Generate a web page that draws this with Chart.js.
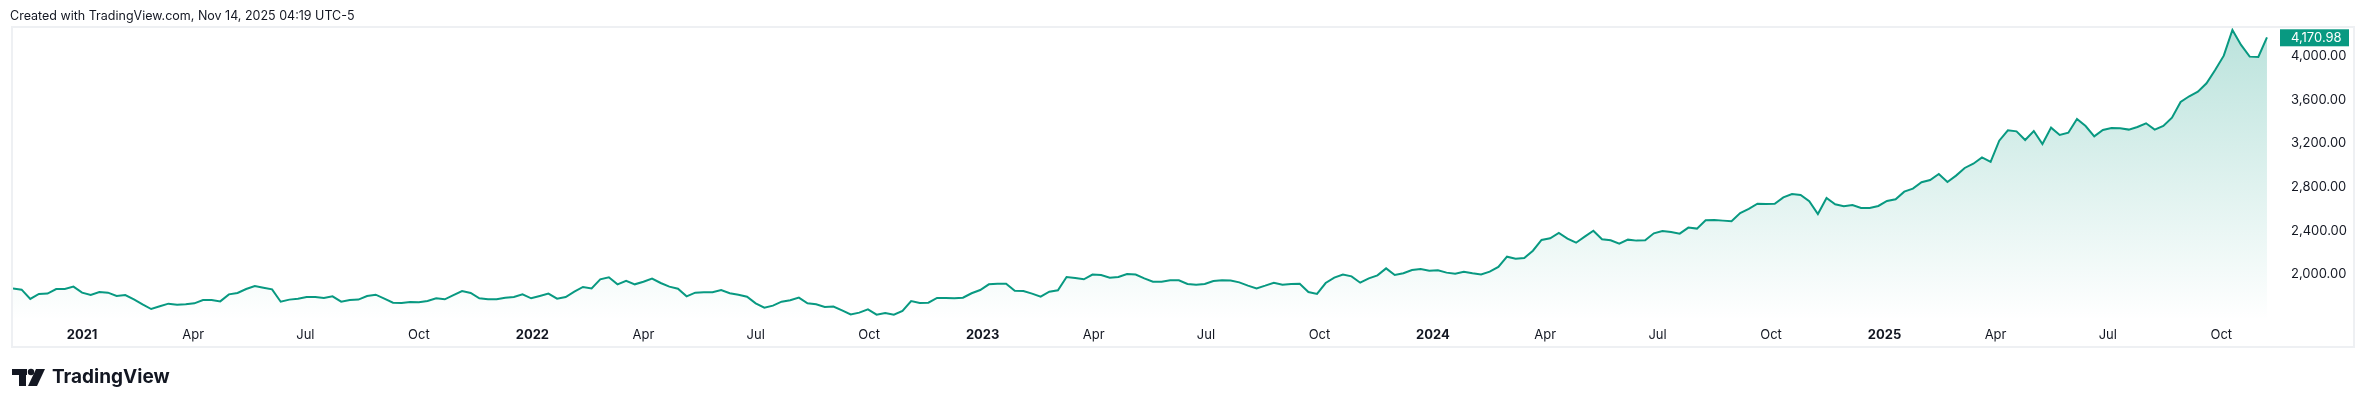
<!DOCTYPE html>
<html><head><meta charset="utf-8">
<script src="https://cdn.jsdelivr.net/npm/chart.js@4"></script>
<style>html,body{margin:0;padding:0;background:#fff}canvas{display:block}</style>
</head><body>
<canvas id="c" width="2364" height="407"></canvas>
<script>
const startDate = '2020-11-06';
const closes1 = [1873,1861,1776,1822,1825,1867,1867,1889,1834,1812,1840,1834,1803,1812,1773,1727,1684,1709,1733,1724,1727,1736,1767,1767,1754,1818,1831,1867,1895,1879,1864,1751,1770,1779,1794,1794,1785,1800,1751,1767,1770,1803,1815,1779,1742,1739,1748,1745,1757,1782,1773,1812,1849,1831,1782,1773,1773];
const closes2 = [1788,1794,1818,1782,1803,1825,1779,1794,1843,1886,1873,1956,1974,1910,1943,1910,1934,1962,1922,1889,1870,1800,1834,1837,1837,1858,1828,1815,1797,1736,1696,1715,1751,1764,1788,1736,1727,1703,1706,1672,1635,1651,1681,1632,1648,1632,1666,1757,1739,1742,1785,1785,1782,1788,1828];
const closes3 = [1858,1910,1916,1916,1852,1849,1825,1797,1843,1855,1977,1968,1956,1999,1995,1971,1977,2005,1999,1965,1934,1934,1947,1947,1913,1907,1913,1941,1947,1944,1928,1898,1873,1898,1925,1907,1913,1916,1840,1822,1922,1971,1999,1983,1925,1965,1992,2056,1995,2011,2041,2050,2035,2038,2017,2008];
const closes4 = [2026,2011,2001,2026,2069,2163,2145,2151,2218,2316,2331,2380,2328,2291,2346,2401,2322,2313,2282,2319,2310,2313,2377,2398,2389,2374,2429,2420,2496,2499,2493,2487,2563,2600,2648,2645,2648,2706,2737,2728,2670,2554,2700,2642,2624,2636,2609,2609,2627,2673,2688,2758,2786,2844,2865];
const closes5 = [2920,2847,2905,2975,3014,3072,3030,3225,3320,3310,3231,3313,3194,3344,3277,3298,3423,3359,3265,3323,3341,3338,3326,3350,3384,3326,3359,3435,3579,3631,3673,3750,3872,4003,4238,4101,3994,3991,4170.98];
const closes = [...closes1,...closes2,...closes3,...closes4,...closes5];
const tickDates = ['2021-01-01','2021-04-01','2021-07-01','2021-10-01','2022-01-01','2022-04-01','2022-07-01','2022-10-01','2023-01-01','2023-04-01','2023-07-01','2023-10-01','2024-01-01','2024-04-01','2024-07-01','2024-10-01','2025-01-01','2025-04-01','2025-07-01','2025-10-01'];
const tickLabels = ['2021','Apr','Jul','Oct','2022','Apr','Jul','Oct','2023','Apr','Jul','Oct','2024','Apr','Jul','Oct','2025','Apr','Jul','Oct'];
const yTicks = [2000,2400,2800,3200,3600,4000];
const lastLabel = '4,170.98';

const day = 86400000;
const t0 = Date.parse(startDate);
const tickDays = tickDates.map(d => Math.round((Date.parse(d) - t0) / day));
const points = closes.map((v, i) => ({x: i * 7, y: v}));
const GREEN = '#089981';

const deco = {
  id: 'deco',
  beforeDraw(chart) {
    const ctx = chart.ctx;
    ctx.save();
    ctx.fillStyle = '#fff';
    ctx.fillRect(0, 0, chart.width, chart.height);
    ctx.restore();
  },
  afterDraw(chart) {
    const ctx = chart.ctx;
    ctx.save();
    ctx.strokeStyle = '#eef0f3';
    ctx.lineWidth = 2;
    ctx.strokeRect(12, 27, 2342, 320);
    ctx.fillStyle = '#131722';
    ctx.font = '12.5px Inter, "Open Sans", sans-serif';
    ctx.textBaseline = 'middle';
    ctx.textAlign = 'left';
    ctx.fillText('Created with TradingView.com, Nov 14, 2025 04:19 UTC-5', 10, 16);
    // logo
    ctx.fillStyle = '#131722';
    ctx.fillRect(12, 369, 15, 6);
    ctx.fillRect(19, 369, 7, 17);
    ctx.beginPath(); ctx.arc(31, 372, 3.2, 0, Math.PI * 2); ctx.fill();
    ctx.beginPath();
    ctx.moveTo(36, 369); ctx.lineTo(45, 369); ctx.lineTo(37, 386); ctx.lineTo(28, 386); ctx.closePath(); ctx.fill();
    ctx.font = 'bold 19px Inter, "Open Sans", sans-serif';
    ctx.fillText('TradingView', 52, 377.5);
    // last price label
    const y = chart.scales.y.getPixelForValue(closes[closes.length - 1]);
    ctx.fillStyle = GREEN;
    ctx.fillRect(2280, y - 8, 69, 17);
    ctx.fillStyle = '#fff';
    ctx.font = '13px Inter, "Open Sans", sans-serif';
    ctx.fillText(lastLabel, 2291, y + 0.5);
    ctx.restore();
  }
};

new Chart(document.getElementById('c'), {
  type: 'line',
  data: { datasets: [{
    data: points,
    borderColor: GREEN,
    borderWidth: 2,
    pointRadius: 0,
    tension: 0,
    fill: 'start',
    backgroundColor(ctx) {
      const a = ctx.chart.chartArea;
      if (!a) return 'rgba(8,153,129,0.1)';
      const g = ctx.chart.ctx.createLinearGradient(0, a.top, 0, a.bottom);
      g.addColorStop(0, 'rgba(8,153,129,0.28)');
      g.addColorStop(1, 'rgba(8,153,129,0)');
      return g;
    }
  }]},
  options: {
    responsive: false,
    devicePixelRatio: 1,
    animation: false,
    layout: { padding: { top: 28, left: 13, right: 10, bottom: 60 } },
    plugins: { legend: { display: false }, tooltip: { enabled: false } },
    scales: {
      x: {
        type: 'linear', min: 0, max: 1840,
        grid: { display: false, drawTicks: false },
        border: { display: false },
        afterFit(s) { s.height = 27; },
        afterBuildTicks(s) { s.ticks = tickDays.map(v => ({value: v})); },
        ticks: {
          autoSkip: false, maxRotation: 0, padding: 7, color: '#131722',
          font(c) {
            const i = tickDays.indexOf(c.tick && c.tick.value);
            const bold = i >= 0 && /^\d{4}$/.test(tickLabels[i]);
            return { family: 'Inter, "Open Sans", sans-serif', size: 13, weight: bold ? 'bold' : 'normal' };
          },
          callback(v) { const i = tickDays.indexOf(v); return i >= 0 ? tickLabels[i] : ''; }
        }
      },
      y: {
        position: 'right', min: 1583.5, max: 4256,
        grid: { display: false, drawTicks: false },
        border: { display: false },
        afterFit(s) { s.width = 71; },
        afterBuildTicks(s) { s.ticks = yTicks.map(v => ({value: v})); },
        ticks: {
          padding: 8, color: '#131722',
          font: { family: 'Inter, "Open Sans", sans-serif', size: 13 },
          callback(v) { return v.toLocaleString('en-US', {minimumFractionDigits: 2, maximumFractionDigits: 2}); }
        }
      }
    }
  },
  plugins: [deco]
});
</script>
</body></html>
